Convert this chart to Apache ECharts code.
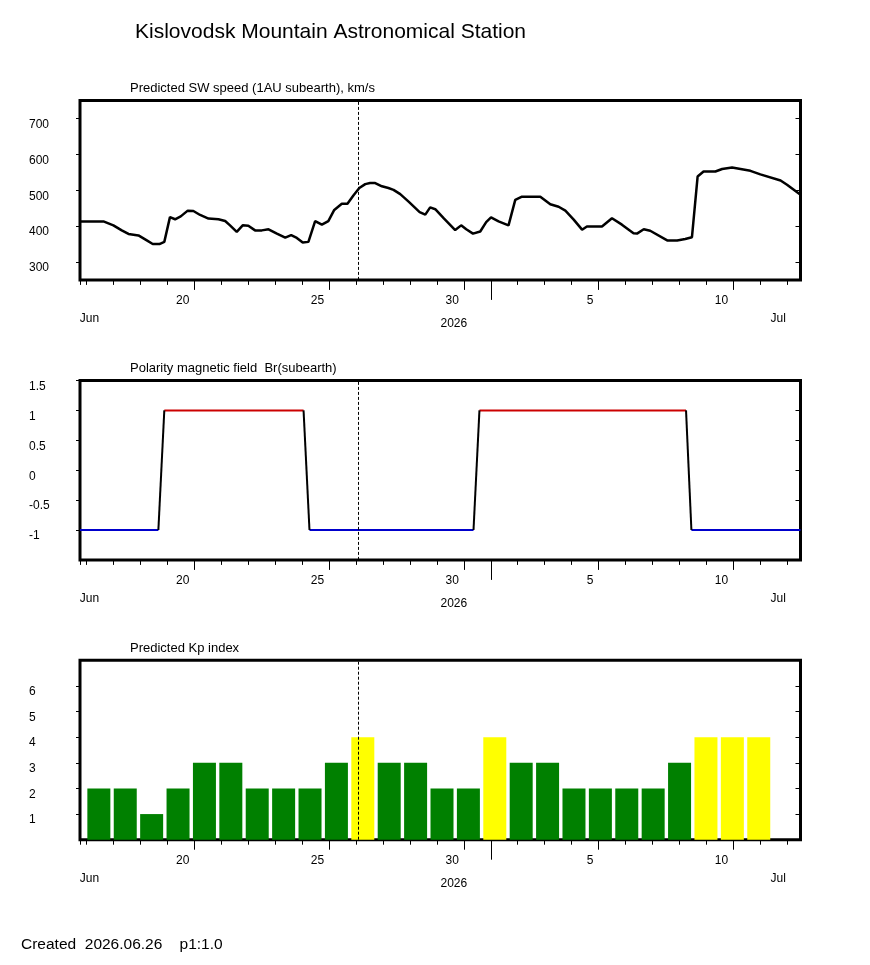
<!DOCTYPE html>
<html>
<head>
<meta charset="utf-8">
<title>Kislovodsk Mountain Astronomical Station</title>
<script src="https://cdn.jsdelivr.net/npm/echarts@6/dist/echarts.min.js"></script>
<style>
  html, body { margin: 0; padding: 0; background: #fff; }
  #chart { width: 870px; height: 965px; }
</style>
</head>
<body>
<div id="chart"></div>
<script>
// x is "day number": June d = d, July d = 30 + d
const X_MIN = 15.75;
const X_MAX = 42.5;
const NOW_DAY = 26.09;

// Predicted SW speed, km/s
const swDay = [15.75, 16.62, 16.99, 17.30, 17.55, 17.92, 18.23, 18.45, 18.70, 18.88,
  19.09, 19.28, 19.49, 19.75, 19.96, 20.21, 20.52, 20.89, 21.14, 21.32,
  21.57, 21.79, 22.00, 22.25, 22.50, 22.75, 23.06, 23.37, 23.59, 23.80,
  24.02, 24.23, 24.48, 24.73, 24.97, 25.19, 25.47, 25.68, 25.90, 26.12,
  26.34, 26.52, 26.71, 26.96, 27.20, 27.39, 27.64, 27.95, 28.36, 28.57,
  28.75, 28.94, 29.25, 29.68, 29.90, 30.09, 30.34, 30.61, 30.83, 31.01,
  31.29, 31.66, 31.91, 32.16, 32.84, 33.21, 33.52, 33.77, 34.08, 34.39,
  34.57, 35.13, 35.50, 35.87, 36.30, 36.43, 36.68, 36.92, 37.55, 37.92,
  38.22, 38.47, 38.68, 38.90, 39.34, 39.59, 39.96, 40.64, 41.01, 41.76,
  42.00, 42.50];
const swSpeed = [413, 413, 402, 388, 378, 374, 360, 350, 350, 356,
  425, 419, 427, 443, 442, 431, 421, 419, 414, 402,
  384, 402, 401, 388, 388, 391, 379, 368, 375, 367,
  354, 356, 414, 404, 414, 445, 462, 462, 485, 506,
  517, 520, 520, 511, 506, 501, 489, 468, 439, 432,
  452, 447, 422, 389, 402, 391, 379, 385, 411, 424,
  413, 402, 473, 482, 482, 461, 454, 443, 418, 390,
  399, 399, 422, 404, 380, 379, 391, 387, 360, 360,
  364, 369, 538, 552, 552, 559, 563, 554, 544, 527,
  515, 487];

// Polarity of Br (subearth)
const polDay = [15.75, 18.66, 18.88, 24.05, 24.27, 30.36, 30.58, 38.25, 38.45, 42.50];
const polVal = [-1, -1, 1, 1, -1, -1, 1, 1, -1, -1];

// Predicted Kp index
const kpDay = [16.45, 17.43, 18.41, 19.39, 20.37, 21.35, 22.33, 23.31, 24.29, 25.27,
  26.25, 27.23, 28.21, 29.19, 30.17, 31.15, 32.13, 33.11, 34.09, 35.07,
  36.05, 37.03, 38.01, 38.99, 39.97, 40.95];
const kpVal = [2, 2, 1, 2, 3, 3, 2, 2, 2, 3,
  4, 3, 3, 2, 2, 4, 3, 3, 2, 2,
  2, 2, 3, 4, 4, 4];

// ticks and labels of the time axis
const dayTicks = [15.75, 16, 17, 18, 19, 20, 21, 22, 23, 24, 25, 26, 27, 28, 29, 30,
  31, 32, 33, 34, 35, 36, 37, 38, 39, 40, 41, 42];
const majorTicks = [20, 25, 30, 35, 40];
const majorLabels = ['20', '25', '30', '5', '10'];
const monthTicks = [31];
const monthLabelPos = [16.10, 41.67];
const monthLabels = ['Jun', 'Jul'];
const yearLabelPos = [29.63];
const yearLabels = ['2026'];

// y axes
const swTicks = [300, 400, 500, 600, 700];
const polTicks = [-1, -0.5, 0, 0.5, 1, 1.5];
const kpTicks = [1, 2, 3, 4, 5, 6];

const panelTitles = [
  'Predicted SW speed (1AU subearth), km/s',
  'Polarity magnetic field  Br(subearth)',
  'Predicted Kp index'
];

const FONT = '"Liberation Sans", Arial, sans-serif';
const gridTops = [100.5, 380.5, 660.3];
const GRID_H = 179.4;

const chart = echarts.init(document.getElementById('chart'));

function xAxesFor(g) {
  const common = {
    gridIndex: g, type: 'value', min: X_MIN, max: X_MAX, position: 'bottom',
    axisLine: { show: false, onZero: false }, splitLine: { show: false }
  };
  const tickStyle = { color: '#000', width: 1 };
  const labelStyle = { color: '#000', fontSize: 12, fontFamily: FONT };
  return [
    Object.assign({}, common, {
      axisTick: { show: true, customValues: dayTicks, length: 5, lineStyle: tickStyle },
      axisLabel: { show: false }
    }),
    Object.assign({}, common, {
      axisTick: { show: true, customValues: majorTicks, length: 10, lineStyle: tickStyle },
      axisLabel: Object.assign({
        show: true, customValues: majorTicks, margin: 15, align: 'right', padding: [0, 5, 0, 0],
        formatter: v => majorLabels[majorTicks.indexOf(v)]
      }, labelStyle)
    }),
    Object.assign({}, common, {
      axisTick: { show: true, customValues: monthTicks, length: 20, lineStyle: tickStyle },
      axisLabel: { show: false }
    }),
    Object.assign({}, common, {
      axisTick: { show: false },
      axisLabel: Object.assign({
        show: true, customValues: monthLabelPos, margin: 33, align: 'center',
        formatter: v => monthLabels[monthLabelPos.indexOf(v)]
      }, labelStyle)
    }),
    Object.assign({}, common, {
      axisTick: { show: false },
      axisLabel: Object.assign({
        show: true, customValues: yearLabelPos, margin: 38, align: 'center',
        formatter: v => yearLabels[yearLabelPos.indexOf(v)]
      }, labelStyle)
    })
  ];
}

function yAxesFor(g, min, max, ticks) {
  return [
    {
      gridIndex: g, type: 'value', position: 'left', min: min, max: max,
      axisLine: { show: false, onZero: false }, splitLine: { show: false },
      axisTick: { show: true, customValues: ticks, length: 4, lineStyle: { color: '#000' } },
      axisLabel: {
        show: true, customValues: ticks, align: 'left', verticalAlign: 'top', margin: 51,
        color: '#000', fontSize: 12, fontFamily: FONT
      }
    },
    {
      gridIndex: g, type: 'value', position: 'right', min: min, max: max,
      axisLine: { show: false, onZero: false }, splitLine: { show: false },
      axisTick: { show: true, inside: true, customValues: ticks, length: 5, lineStyle: { color: '#000' } },
      axisLabel: { show: false }
    }
  ];
}

const nowLine = {
  silent: true,
  symbol: ['none', 'none'],
  label: { show: false },
  lineStyle: { color: '#000', width: 1, type: [3, 2] },
  data: [{ xAxis: NOW_DAY }]
};

const series = [];

// SW speed
series.push({
  type: 'line', xAxisIndex: 0, yAxisIndex: 0,
  data: swDay.map((d, i) => [d, swSpeed[i]]),
  symbol: 'none', lineStyle: { color: '#000', width: 2.5 },
  markLine: nowLine
});

// polarity, one segment per series: blue at -1, red at +1, black transitions
for (let i = 0; i < polDay.length - 1; i++) {
  const a = polVal[i], b = polVal[i + 1];
  let color = '#000';
  if (a === -1 && b === -1) color = '#0000cc';
  if (a === 1 && b === 1) color = '#cc0000';
  series.push({
    type: 'line', xAxisIndex: 5, yAxisIndex: 2,
    data: [[polDay[i], a], [polDay[i + 1], b]],
    symbol: 'none', z: color === '#000' ? 3 : 2,
    lineStyle: { color: color, width: 2 },
    markLine: i === 0 ? nowLine : undefined
  });
}

// Kp bars
series.push({
  type: 'bar', xAxisIndex: 10, yAxisIndex: 4,
  barWidth: 23,
  data: kpDay.map((d, i) => ({
    value: [d, kpVal[i]],
    itemStyle: { color: kpVal[i] >= 4 ? '#ffff00' : '#008000' }
  })),
  markLine: nowLine
});

const titles = [
  { text: 'Kislovodsk Mountain Astronomical Station', left: 135, top: 21.5, fontSize: 21 },
  { text: panelTitles[0], left: 130, top: 82, fontSize: 13 },
  { text: panelTitles[1], left: 130, top: 362, fontSize: 13 },
  { text: panelTitles[2], left: 130, top: 642, fontSize: 13 },
  { text: 'Created  2026.06.26    p1:1.0', left: 21, top: 936.5, fontSize: 15.5 }
].map(t => ({
  text: t.text, left: t.left, top: t.top, padding: 0,
  textStyle: { color: '#000', fontWeight: 'normal', fontSize: t.fontSize, fontFamily: FONT }
}));

chart.setOption({
  animation: false,
  backgroundColor: '#fff',
  title: titles,
  grid: gridTops.map(top => ({
    left: 80, top: top, width: 720.5, height: GRID_H,
    show: true, borderColor: '#000', borderWidth: 3, backgroundColor: 'transparent'
  })),
  xAxis: [].concat(xAxesFor(0), xAxesFor(1), xAxesFor(2)),
  yAxis: [].concat(
    yAxesFor(0, 250, 750, swTicks),
    yAxesFor(1, -1.5, 1.5, polTicks),
    yAxesFor(2, 0, 7, kpTicks)
  ),
  series: series
});
</script>
</body>
</html>
